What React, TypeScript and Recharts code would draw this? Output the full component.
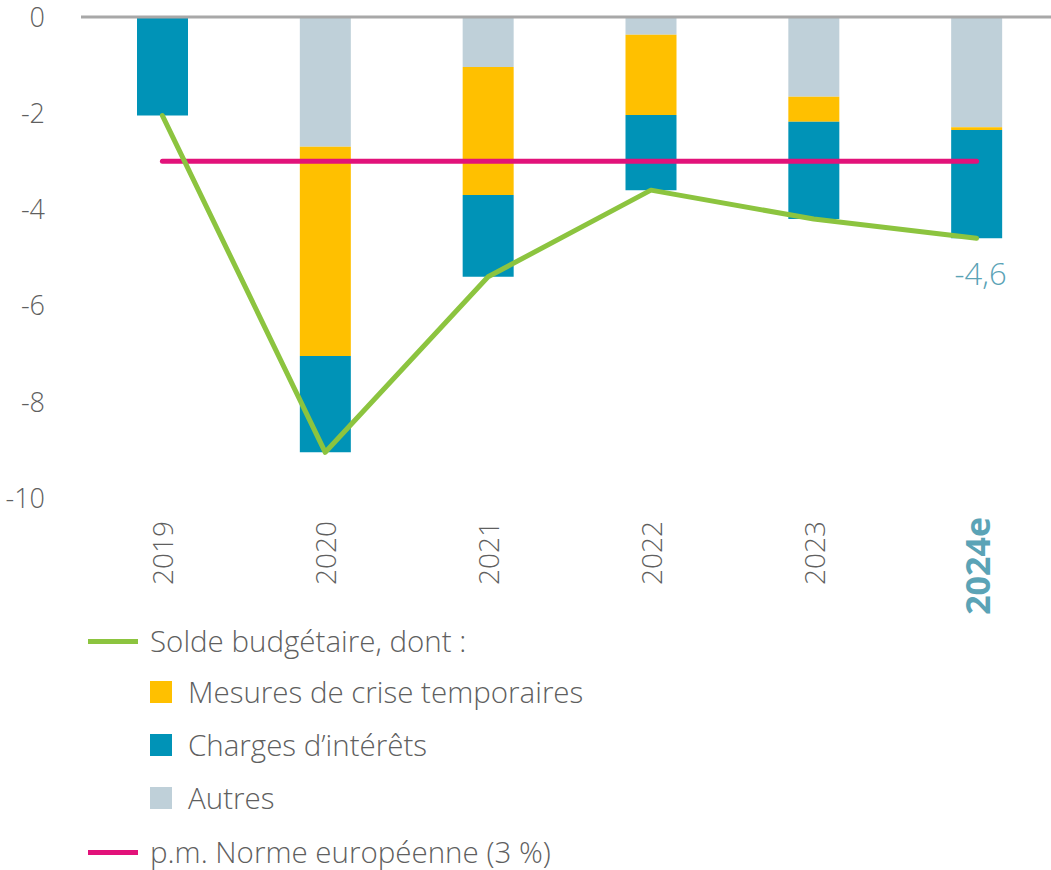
import React from "react";
import { Bar, ComposedChart, LabelList, Line, ReferenceLine, XAxis, YAxis } from "recharts";

const years = ["2019", "2020", "2021", "2022", "2023", "2024e"];
const autres = [0, -2.7, -1.04, -0.37, -1.66, -2.29];
const mesuresCrise = [0, -4.35, -2.66, -1.67, -0.52, -0.06];
const chargesInterets = [-2.05, -2.0, -1.7, -1.56, -2.02, -2.25];
const soldeBudgetaire = [-2.05, -9.05, -5.4, -3.6, -4.2, -4.6];
const normeEuropeenne = [-3, -3, -3, -3, -3, -3];
const yTicks = [0, -2, -4, -6, -8, -10];

const data = years.map((year, i) => ({
  year,
  autres: autres[i],
  crise: mesuresCrise[i],
  interets: chargesInterets[i],
  solde: soldeBudgetaire[i],
  norme: normeEuropeenne[i]
}));

const font = "'Open Sans', 'Noto Sans', sans-serif";
const textColor = "#5f5f5f";
const teal = "#5ba3b6";

function YTick({ y, payload }: any) {
  return (
    <text x={45} y={y} dy="0.36em" textAnchor="end" fill={textColor} fontFamily={font} fontWeight={300} fontSize={27}>
      {payload.value}
    </text>
  );
}

function XTick({ x, payload }: any) {
  const last = payload.value === "2024e";
  const ty = last ? 517 : 521;
  const tx = x + 1;
  return (
    <text
      x={tx}
      y={ty}
      transform={`rotate(-90 ${tx} ${ty})`}
      textAnchor="end"
      dy="0.36em"
      fill={last ? teal : textColor}
      fontFamily={font}
      fontWeight={last ? 700 : 300}
      fontSize={last ? 34 : 28}
    >
      {payload.value}
    </text>
  );
}

function LastLabel({ x, y, index, value }: any) {
  if (index !== years.length - 1) return null;
  return (
    <text x={x + 4} y={y + 36} dy="0.36em" textAnchor="middle" fill={teal} fontFamily={font} fontWeight={300} fontSize={31}>
      {String(value).replace(".", ",")}
    </text>
  );
}

function LegendRow({ top, left, marker, label }: { top: number; left: number; marker: React.ReactNode; label: string }) {
  return (
    <div style={{ position: "absolute", top: top - 17, left, height: 34, display: "flex", alignItems: "center" }}>
      {marker}
      <span
        style={{ fontFamily: font, fontWeight: 300, fontSize: 29.5, lineHeight: "34px", color: textColor, whiteSpace: "nowrap" }}
      >
        {label}
      </span>
    </div>
  );
}

const lineMarker = (color: string) => (
  <span style={{ display: "inline-block", width: 50, height: 5, background: color, marginRight: 12 }} />
);
const squareMarker = (color: string) => (
  <span style={{ display: "inline-block", width: 22, height: 22, background: color, marginRight: 16 }} />
);

export default function App() {
  return (
    <div style={{ position: "absolute", left: 0, top: 0, width: 1051, height: 870, overflow: "hidden", background: "#fff" }}>
      <ComposedChart width={1058} height={618} data={data} margin={{ top: 17, right: 0, bottom: 0, left: 0 }}>
        <XAxis dataKey="year" axisLine={false} tickLine={false} height={120} tick={<XTick />} interval={0} />
        <YAxis domain={[-10, 0]} ticks={yTicks} width={81} axisLine={false} tickLine={false} tick={<YTick />} />
        <Bar dataKey="autres" stackId="s" fill="#bfd0d9" barSize={51} isAnimationActive={false} />
        <Bar dataKey="crise" stackId="s" fill="#ffc000" barSize={51} isAnimationActive={false} />
        <Bar dataKey="interets" stackId="s" fill="#0093b7" barSize={51} isAnimationActive={false} />
        <ReferenceLine y={0} stroke="#a8a8a8" strokeWidth={3} />
        <Line
          dataKey="norme"
          stroke="#e2127a"
          strokeWidth={5}
          strokeLinecap="round"
          dot={false}
          activeDot={false}
          isAnimationActive={false}
        />
        <Line
          dataKey="solde"
          stroke="#8cc43f"
          strokeWidth={5}
          strokeLinecap="round"
          strokeLinejoin="round"
          dot={false}
          activeDot={false}
          isAnimationActive={false}
        >
          <LabelList dataKey="solde" content={<LastLabel />} />
        </Line>
      </ComposedChart>
      <LegendRow top={641} left={88} marker={lineMarker("#8cc43f")} label="Solde budgétaire, dont :" />
      <LegendRow top={692} left={150} marker={squareMarker("#ffc000")} label="Mesures de crise temporaires" />
      <LegendRow top={745} left={150} marker={squareMarker("#0093b7")} label="Charges d’intérêts" />
      <LegendRow top={798} left={150} marker={squareMarker("#bfd0d9")} label="Autres" />
      <LegendRow top={852} left={88} marker={lineMarker("#e2127a")} label="p.m. Norme européenne (3 %)" />
    </div>
  );
}
